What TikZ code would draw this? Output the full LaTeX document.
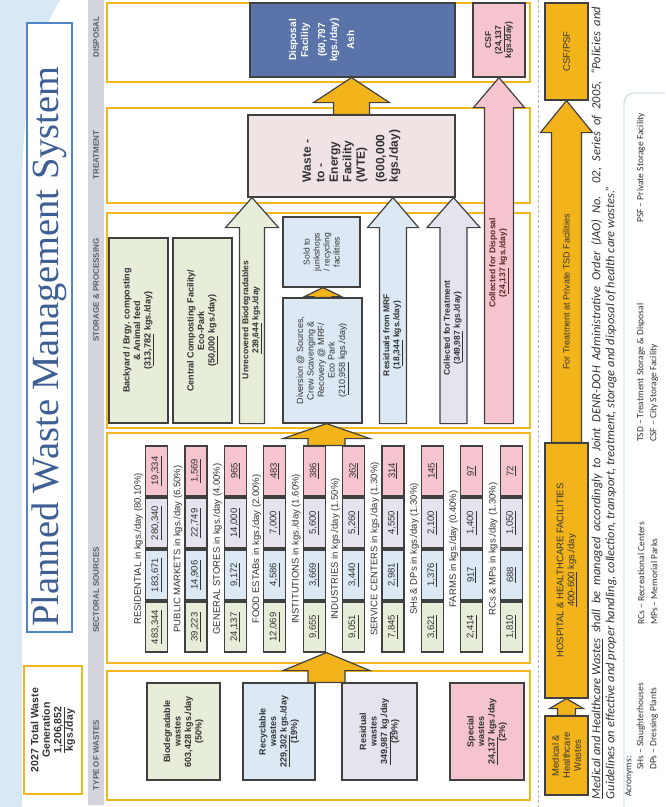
\documentclass[tikz,border=0pt]{standalone}
\usepackage{fontspec}
\setmainfont{Liberation Sans}
\newfontfamily\titlefont{Liberation Serif}
\newfontfamily\notefont{Carlito}
\usetikzlibrary{calc}

\definecolor{framegold}{HTML}{F2B61E}
\definecolor{orangefill}{HTML}{F3B41B}
\definecolor{edgegrey}{HTML}{404040}
\definecolor{txtgrey}{HTML}{333333}
\definecolor{headgrey}{HTML}{5C5C66}
\definecolor{bandgrey}{HTML}{D4D4DC}
\definecolor{greenfill}{HTML}{E6EDD9}
\definecolor{bluefill}{HTML}{DCE9F4}
\definecolor{lavfill}{HTML}{E6E3EE}
\definecolor{pinkfill}{HTML}{F5C4CE}
\definecolor{wtefill}{HTML}{EFE3E3}
\definecolor{dispfill}{HTML}{5A74AA}
\definecolor{titleblue}{HTML}{3D5F93}
\definecolor{skyline}{HTML}{4F86C6}
\definecolor{swoosh}{HTML}{D8E8F5}
\definecolor{dispred}{HTML}{5A2A2A}

% block arrow: style, tail, tip, shaft half width, head half width, head length
\newcommand{\fatarrow}[6]{%
  \draw[#1] let \p1=(#2), \p2=(#3) in
    (\x2-#4,\y1) -- (\x2-#4,\y2-#6) -- (\x2-#5,\y2-#6) -- (\x2,\y2)
    -- (\x2+#5,\y2-#6) -- (\x2+#4,\y2-#6) -- (\x2+#4,\y1) -- cycle;}

\begin{document}
\begin{tikzpicture}[x=1pt, y=-1pt,
    box/.style={draw=edgegrey, line width=1.2pt, rotate=90, align=center, inner sep=1pt, text=txtgrey, font=\bfseries\fontsize{9}{10.5}\selectfont},
    obox/.style={box, fill=orangefill, font=\fontsize{9.5}{11}\selectfont},
    colframe/.style={draw=framegold, line width=1.6pt, fill=white, inner sep=0pt},
    cell/.style={box, minimum width=50pt, minimum height=22pt, font=\fontsize{9.5}{11}\selectfont},
    seclabel/.style={rotate=90, inner sep=0pt, text=txtgrey, font=\fontsize{9.5}{11}\selectfont},
    colhead/.style={rotate=90, inner sep=0pt, text=headgrey, font=\bfseries\fontsize{8}{9}\selectfont},
    inlabel/.style={rotate=90, align=center, inner sep=0pt, text=txtgrey, font=\bfseries\fontsize{8.5}{10}\selectfont},
    fatline/.style={draw=edgegrey, line width=1.2pt},
    acro/.style={rotate=90, anchor=west, inner sep=0pt, text=txtgrey, font=\notefont\fontsize{9.5}{11}\selectfont}]

    \useasboundingbox (0,0) rectangle (665,807);
    \fill[swoosh] (0,0) -- (60,0) .. controls (35,40) and (24,100) .. (22,180) -- (22,807) -- (0,807) -- cycle;
    \draw[skyline!40, line width=0.8pt, rounded corners=10pt] (624,807) -- (624,93) -- (665,93);

    % title and total
    \node[rotate=90, draw=skyline, line width=1.5pt, fill=white, minimum width=609pt, minimum height=45pt, inner sep=0pt, text=titleblue, font=\titlefont\fontsize{38.5}{40}\selectfont] (title) at (49.5,327.5) {Planned Waste Management System\hspace*{38pt}};
    \node[rotate=90, draw=framegold, line width=1.6pt, fill=white, minimum width=128pt, minimum height=58pt, align=center, inner sep=1pt, text=txtgrey, font=\bfseries\fontsize{10.5}{11.5}\selectfont] (total) at (53,730) {2027 Total Waste\\Generation\\\underline{1,206,852}\\kgs./day};

    % column headers
    \fill[bandgrey] (88,0) rectangle (104,805);
    \node[colhead] (hdisp) at (96,37) {DISPOSAL};
    \node[colhead] (htreat) at (96,155) {TREATMENT};
    \node[colhead] (hstore) at (96,290) {STORAGE \& PROCESSING};
    \node[colhead] (hsect) at (96,590) {SECTORAL SOURCES};
    \node[colhead] (htype) at (96,755) {TYPE OF WASTES};

    \node[colframe, minimum width=423pt, minimum height=79pt] (fdisp) at (318.5,42.5) {};
    \node[colframe, minimum width=423pt, minimum height=95pt] (ftreat) at (318.5,155.5) {};
    \node[colframe, minimum width=423pt, minimum height=215pt] (fstore) at (318.5,320.5) {};
    \node[colframe, minimum width=423pt, minimum height=230pt] (fsect) at (318.5,548) {};
    \node[colframe, minimum width=423pt, minimum height=129pt] (ftype) at (318.5,735.5) {};

    % type of wastes
    \node[box, fill=greenfill, minimum width=97pt, minimum height=73pt] (biodeg) at (183.5,731.5) {Biodegradable\\wastes\\603,428 kgs./day\\(50\%)};
    \node[box, fill=bluefill, minimum width=97pt, minimum height=72pt] (recyc) at (279,731.5) {Recyclable\\wastes\\\underline{229,302} kgs./day\\(19\%)};
    \node[box, fill=lavfill, minimum width=97pt, minimum height=75pt] (resid) at (379.5,731.5) {Residual\\wastes\\\underline{349,987} kg./day\\(29\%)};
    \node[box, fill=pinkfill, minimum width=97pt, minimum height=74pt] (special) at (487,731.5) {Special\\wastes\\\underline{24,137} kgs./day\\(2\%)};

    % sectoral sources
    \foreach \i/\sect/\pct/\va/\vb/\vc/\vd in {
        0/RESIDENTIAL/80.10/{483,344}/{183,671}/{280,340}/{19,334},
        1/PUBLIC MARKETS/6.50/{39,223}/{14,906}/{22,749}/{1,569},
        2/GENERAL STORES/4.00/{24,137}/{9,172}/{14,000}/{965},
        3/FOOD ESTABs/2.00/{12,069}/{4,586}/{7,000}/{483},
        4/INSTITUTIONS/1.60/{9,655}/{3,669}/{5,600}/{386},
        5/INDUSTRIES/1.50/{9,051}/{3,440}/{5,260}/{362},
        6/SERVICE CENTERS/1.30/{7,845}/{2,981}/{4,550}/{314},
        7/SHs \& DPs/1.30/{3,621}/{1,376}/{2,100}/{145},
        8/FARMS/0.40/{2,414}/{917}/{1,400}/{97},
        9/RCs \& MPs/1.30/{1,810}/{688}/{1,050}/{72}} {
      \pgfmathsetmacro{\lx}{138.5+39.4*\i}
      \pgfmathsetmacro{\cx}{\lx+18}
      \node[seclabel] (lab\i) at (\lx,549) {\sect{} in kgs./day (\pct\%)};
      \node[cell, fill=greenfill] (ca\i) at (\cx,627) {\underline{\va}};
      \node[cell, fill=bluefill] (cb\i) at (\cx,575) {\underline{\vb}};
      \node[cell, fill=lavfill] (cc\i) at (\cx,523) {\underline{\vc}};
      \node[cell, fill=pinkfill] (cd\i) at (\cx,471) {\underline{\vd}};
    }

    % storage and processing
    \node[box, fill=greenfill, minimum width=185pt, minimum height=59pt] (backyard) at (138.5,330.5) {Backyard / Brgy. composting\\\& Animal feed\\(\underline{313,782} kgs./day)};
    \node[box, fill=greenfill, minimum width=185pt, minimum height=59pt] (central) at (202.5,330.5) {Central Composting Facility/\\Eco-Park\\(\underline{50,000} kgs./day)};
    \node[box, fill=bluefill, minimum width=125pt, minimum height=79pt, font=\fontsize{9}{10.5}\selectfont] (divert) at (322.5,360.5) {Diversion @ Sources,\\Crew Scavenging \&\\Recovery @ MRF/\\Eco Park\\(\underline{210,958} kgs./day)};
    \node[box, fill=bluefill, minimum width=70pt, minimum height=77pt, font=\fontsize{8.5}{10}\selectfont] (sold) at (321.5,252) {Sold to\\junkshops\\/ recycling\\facilities};

    % treatment and disposal
    \node[box, fill=wtefill, minimum width=82pt, minimum height=207pt, align=left, font=\bfseries\fontsize{12}{13.5}\selectfont] (wte) at (351.5,156) {Waste -\\to -\\Energy\\Facility\\(WTE)\\[6pt](600,000\\kgs./day)};
    \node[box, fill=dispfill, text=white, minimum width=74pt, minimum height=205pt, text depth=62pt, font=\bfseries\fontsize{10}{12}\selectfont] (disp) at (352.5,40) {Disposal\\Facility\\[5pt](60,797\\kgs./day)\\[5pt]Ash};
    \node[box, fill=pinkfill, minimum width=74pt, minimum height=52pt, font=\bfseries\fontsize{8.5}{10}\selectfont] (csf) at (499,40) {CSF\\(\underline{24,137}\\kgs./day)};

    \fatarrow{fatline, fill=orangefill}{326.5,0 |- resid.east}{326.5,0 |- ca0.west}{18.5}{43.5}{18}
    \fatarrow{fatline, fill=orangefill}{326.5,0 |- cd0.east}{326.5,0 |- divert.west}{18.5}{43.5}{15}
    \fatarrow{fatline, fill=orangefill}{323,0 |- divert.east}{323,0 |- sold.west}{9}{18.5}{9}
    \fatarrow{fatline, fill=greenfill}{252,0 |- backyard.west}{252,0 |- wte.west}{12.5}{26.5}{30}
    \fatarrow{fatline, fill=bluefill}{393,0 |- divert.west}{393,0 |- wte.west}{13.5}{25.5}{30}
    \fatarrow{fatline, fill=lavfill}{453.5,0 |- divert.west}{453.5,0 |- wte.west}{13.5}{26.5}{30}
    \fatarrow{fatline, fill=pinkfill}{499,0 |- divert.west}{csf.west}{14.5}{25.5}{30}
    \fatarrow{fatline, fill=orangefill}{wte.east}{351.5,0 |- disp.west}{18}{38}{25}

    \node[inlabel] (unreclab) at (252,320) {Unrecovered Biodegradables\\\underline{239,644} kgs./day};
    \node[inlabel] (residlab) at (393,335) {Residuals from MRF\\(\underline{18,344} kgs./day)};
    \node[inlabel] (colltlab) at (453.5,328) {Collected for Treatment\\(\underline{349,987} kgs./day)};
    \node[inlabel, text=dispred] (colldlab) at (499,263) {Collected for Disposal\\(\underline{24,137} kgs./day)};

    % medical and healthcare wastes
    \draw[gray!60, densely dashed, line width=0.8pt] (538,0) -- (538,807);
    \node[obox, minimum width=97pt, minimum height=43pt] (csfpsf) at (566.5,51.5) {CSF/PSF};
    \node[obox, minimum width=255pt, minimum height=43pt] (hosp) at (566.5,570.5) {HOSPITAL \& HEALTHCARE FACILITIES\\\underline{400-600} kgs./day};
    \node[obox, minimum width=79pt, minimum height=43pt] (medical) at (566.5,755.5) {Medical \&\\Healthcare\\Wastes};
    \fatarrow{fatline, fill=orangefill}{medical.east}{hosp.west}{9}{17}{10}
    \fatarrow{fatline, fill=orangefill}{hosp.east}{csfpsf.west}{15}{26}{32}
    \node[inlabel, font=\fontsize{9}{10}\selectfont] (tsdlab) at (566.5,292) {For Treatment at Private TSD Facilities};

    \node[rotate=90, text width=792pt, align=justify, inner sep=0pt, text=txtgrey, font=\notefont\itshape\fontsize{12.5}{14}\selectfont] (note) at (604,403) {\underline{Medical and Healthcare Wastes} shall be managed accordingly to Joint DENR-DOH Administrative Order (JAO) No. 02, Series of 2005, “Policies and\linebreak Guidelines on effective and proper handling, collection, transport, treatment, storage and disposal of health care wastes.”};

    \node[acro] (acr) at (629,797) {Acronyms:};
    \node[acro] (shs) at (641,770) {SHs – Slaughterhouses};
    \node[acro] (rcs) at (641,625) {RCs – Recreational Centers};
    \node[acro] (tsd) at (641,442) {TSD – Treatment Storage \& Disposal};
    \node[acro] (psf) at (641,223) {PSF – Private Storage Facility};
    \node[acro] (dps) at (654,770) {DPs – Dressing Plants};
    \node[acro] (mps) at (654,625) {MPs – Memorial Parks};
    \node[acro] (csfa) at (654,442) {CSF – City Storage Facility};
\end{tikzpicture}
\end{document}
